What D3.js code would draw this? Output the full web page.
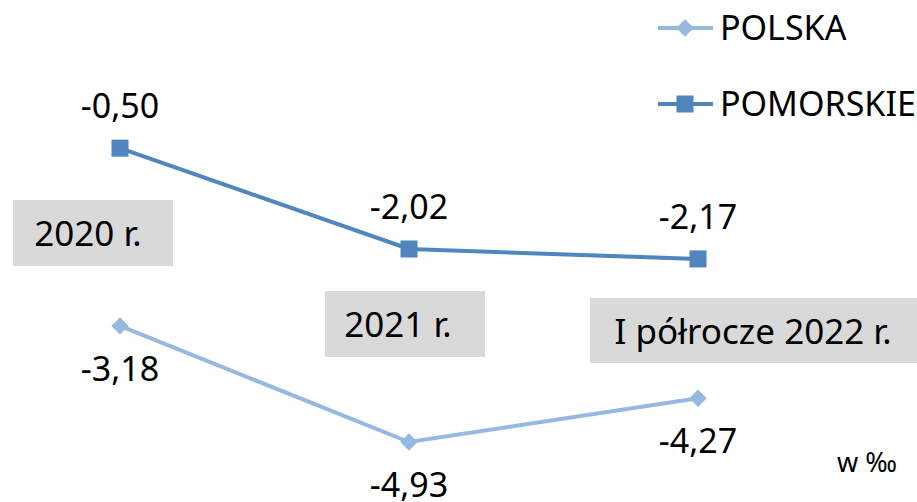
<!DOCTYPE html>
<html>
<head>
<meta charset="utf-8">
<script src="https://cdn.jsdelivr.net/npm/d3@7"></script>
<style>
  body { margin: 0; background: #fff; }
  text { font-family: 'Noto Sans', sans-serif; fill: #000; }
</style>
</head>
<body>
<div id="chart"></div>
<script>
// Data
const categories = ['2020 r.', '2021 r.', 'I półrocze 2022 r.']
const polska = [-3.18, -4.93, -4.27]
const pomorskie = [-0.50, -2.02, -2.17]
const seriesNames = ['POLSKA', 'POMORSKIE']
const unitLabel = 'w ‰'

const width = 917,
  height = 502

const colors = { POLSKA: '#95b9e0', POMORSKIE: '#4f86be' }

// category label boxes (text boxes on the plot)
const boxes = [
  { x: 13, y: 200, w: 160, h: 66, tx: 88 },
  { x: 325, y: 291, w: 160, h: 66, tx: 398 },
  { x: 590, y: 298, w: 330, h: 65, tx: 753 }
]

let svg = d3.select('#chart')
  .append('svg')
  .attr('width', width)
  .attr('height', height)

const xScale = d3.scalePoint()
  .domain(categories)
  .range([120, 698])

const yScale = d3.scaleLinear()
  .domain([0, -6])
  .range([115, 513])

const fmt = v => d3.format('.2f')(v).replace('.', ',').replace('−', '-')

// category boxes
let boxG = svg.selectAll('g.box')
  .data(categories)
  .enter()
  .append('g')
  .attr('class', 'box')

boxG.append('rect')
  .attr('x', (d, i) => boxes[i].x)
  .attr('y', (d, i) => boxes[i].y)
  .attr('width', (d, i) => boxes[i].w)
  .attr('height', (d, i) => boxes[i].h)
  .attr('fill', '#d9d9d9')

boxG.append('text')
  .attr('x', (d, i) => boxes[i].tx)
  .attr('y', (d, i) => boxes[i].y + 46)
  .attr('text-anchor', 'middle')
  .attr('font-size', 35)
  .text(d => d)

const line = d3.line()
  .x((d, i) => xScale(categories[i]))
  .y(d => yScale(d))

// diamond = square turned 45 degrees
const series = [
  { name: 'POLSKA', values: polska, symbol: d3.symbolSquare, size: 150, rot: 45, labelDy: 55 },
  { name: 'POMORSKIE', values: pomorskie, symbol: d3.symbolSquare, size: 290, rot: 0, labelDy: -30 }
]

series.forEach(s => {
  svg.append('path')
    .attr('d', line(s.values))
    .attr('fill', 'none')
    .attr('stroke', colors[s.name])
    .attr('stroke-width', 4)

  svg.selectAll('path.m-' + s.name)
    .data(s.values)
    .enter()
    .append('path')
    .attr('class', 'm-' + s.name)
    .attr('d', d3.symbol().type(s.symbol).size(s.size))
    .attr('transform', (d, i) => `translate(${xScale(categories[i])},${yScale(d)}) rotate(${s.rot})`)
    .attr('fill', colors[s.name])

  svg.selectAll('text.l-' + s.name)
    .data(s.values)
    .enter()
    .append('text')
    .attr('class', 'l-' + s.name)
    .attr('x', (d, i) => xScale(categories[i]))
    .attr('y', d => yScale(d) + s.labelDy)
    .attr('text-anchor', 'middle')
    .attr('font-size', 34)
    .text(d => fmt(d))
})

// legend
let legend = svg.selectAll('g.legend')
  .data(series)
  .enter()
  .append('g')
  .attr('class', 'legend')
  .attr('transform', (d, i) => `translate(658, ${28 + i * 76})`)

legend.append('line')
  .attr('x1', 0)
  .attr('x2', 55)
  .attr('stroke', d => colors[d.name])
  .attr('stroke-width', 4)

legend.append('path')
  .attr('d', d => d3.symbol().type(d.symbol).size(d.size)())
  .attr('transform', d => `translate(27,0) rotate(${d.rot})`)
  .attr('fill', d => colors[d.name])

legend.append('text')
  .attr('x', 62)
  .attr('y', 12)
  .attr('font-size', 34)
  .text((d, i) => seriesNames[i])

svg.append('text')
  .attr('x', 837)
  .attr('y', 472)
  .attr('font-size', 27)
  .text(unitLabel)
</script>
</body>
</html>
